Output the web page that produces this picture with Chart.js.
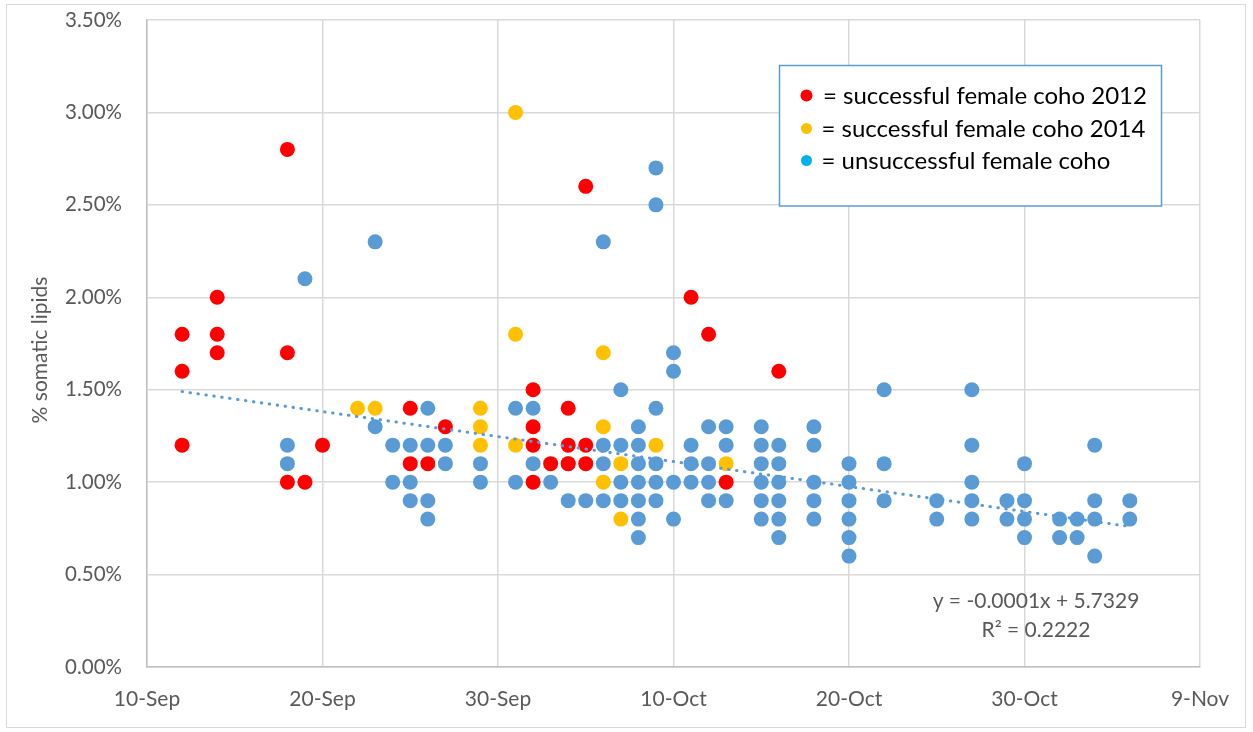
<!DOCTYPE html>
<html>
<head>
<meta charset="utf-8">
<title>% somatic lipids of female coho</title>
<script src="https://cdn.jsdelivr.net/npm/chart.js@4/dist/chart.umd.min.js"></script>
<style>
  html, body { margin: 0; padding: 0; background: #ffffff; }
  #wrap { position: relative; width: 1253px; height: 732px; }
  canvas { display: block; }
</style>
</head>
<body>
<div id="wrap"><canvas id="chart" width="1253" height="732"></canvas></div>
<script>
// Sampling dates (day-Month) and % somatic lipid values for each group
const success2012 = [
  ['12-Sep', 1.8], ['12-Sep', 1.6], ['12-Sep', 1.2],
  ['14-Sep', 2.0], ['14-Sep', 1.8], ['14-Sep', 1.7],
  ['18-Sep', 2.8], ['18-Sep', 1.7], ['18-Sep', 1.0],
  ['19-Sep', 1.0], ['20-Sep', 1.2],
  ['25-Sep', 1.4], ['25-Sep', 1.1], ['26-Sep', 1.1], ['27-Sep', 1.3],
  ['2-Oct', 1.5], ['2-Oct', 1.3], ['2-Oct', 1.2], ['2-Oct', 1.0],
  ['3-Oct', 1.1],
  ['4-Oct', 1.4], ['4-Oct', 1.2], ['4-Oct', 1.1],
  ['5-Oct', 2.6], ['5-Oct', 1.2], ['5-Oct', 1.1],
  ['11-Oct', 2.0], ['12-Oct', 1.8], ['13-Oct', 1.0], ['16-Oct', 1.6]
];

const success2014 = [
  ['22-Sep', 1.4], ['23-Sep', 1.4],
  ['29-Sep', 1.4], ['29-Sep', 1.3], ['29-Sep', 1.2],
  ['1-Oct', 3.0], ['1-Oct', 1.8], ['1-Oct', 1.2],
  ['6-Oct', 1.7], ['6-Oct', 1.3], ['6-Oct', 1.0],
  ['7-Oct', 1.1], ['7-Oct', 0.8],
  ['9-Oct', 1.2], ['13-Oct', 1.1]
];

const unsuccessful = [
  ['18-Sep', 1.2], ['18-Sep', 1.1], ['19-Sep', 2.1],
  ['23-Sep', 2.3], ['23-Sep', 1.3],
  ['24-Sep', 1.2], ['24-Sep', 1.0],
  ['25-Sep', 1.2], ['25-Sep', 1.0], ['25-Sep', 0.9],
  ['26-Sep', 1.4], ['26-Sep', 1.2], ['26-Sep', 0.9], ['26-Sep', 0.8],
  ['27-Sep', 1.2], ['27-Sep', 1.1],
  ['29-Sep', 1.1], ['29-Sep', 1.0],
  ['1-Oct', 1.4], ['1-Oct', 1.0],
  ['2-Oct', 1.4], ['2-Oct', 1.1],
  ['3-Oct', 1.0],
  ['4-Oct', 1.1], ['4-Oct', 0.9],
  ['5-Oct', 0.9],
  ['6-Oct', 2.3], ['6-Oct', 1.2], ['6-Oct', 1.1], ['6-Oct', 0.9],
  ['7-Oct', 1.5], ['7-Oct', 1.2], ['7-Oct', 1.0], ['7-Oct', 0.9],
  ['8-Oct', 1.3], ['8-Oct', 1.2], ['8-Oct', 1.1], ['8-Oct', 1.0], ['8-Oct', 0.9], ['8-Oct', 0.8], ['8-Oct', 0.7],
  ['9-Oct', 2.7], ['9-Oct', 2.5], ['9-Oct', 1.4], ['9-Oct', 1.1], ['9-Oct', 1.0], ['9-Oct', 0.9],
  ['10-Oct', 1.7], ['10-Oct', 1.6], ['10-Oct', 1.0], ['10-Oct', 0.8],
  ['11-Oct', 1.2], ['11-Oct', 1.1], ['11-Oct', 1.0],
  ['12-Oct', 1.3], ['12-Oct', 1.1], ['12-Oct', 1.0], ['12-Oct', 0.9],
  ['13-Oct', 1.3], ['13-Oct', 1.2], ['13-Oct', 0.9],
  ['15-Oct', 1.3], ['15-Oct', 1.2], ['15-Oct', 1.1], ['15-Oct', 1.0], ['15-Oct', 0.9], ['15-Oct', 0.8],
  ['16-Oct', 1.2], ['16-Oct', 1.1], ['16-Oct', 1.0], ['16-Oct', 0.9], ['16-Oct', 0.8], ['16-Oct', 0.7],
  ['18-Oct', 1.3], ['18-Oct', 1.2], ['18-Oct', 1.0], ['18-Oct', 0.9], ['18-Oct', 0.8],
  ['20-Oct', 1.1], ['20-Oct', 1.0], ['20-Oct', 0.9], ['20-Oct', 0.8], ['20-Oct', 0.7], ['20-Oct', 0.6],
  ['22-Oct', 1.5], ['22-Oct', 1.1], ['22-Oct', 0.9],
  ['25-Oct', 0.9], ['25-Oct', 0.8],
  ['27-Oct', 1.5], ['27-Oct', 1.2], ['27-Oct', 1.0], ['27-Oct', 0.9], ['27-Oct', 0.8],
  ['29-Oct', 0.9], ['29-Oct', 0.8],
  ['30-Oct', 1.1], ['30-Oct', 0.9], ['30-Oct', 0.8], ['30-Oct', 0.7],
  ['1-Nov', 0.8], ['1-Nov', 0.7],
  ['2-Nov', 0.8], ['2-Nov', 0.7],
  ['3-Nov', 1.2], ['3-Nov', 0.9], ['3-Nov', 0.8], ['3-Nov', 0.6],
  ['5-Nov', 0.9], ['5-Nov', 0.8]
];

// Linear trend across all fish: end points
const trendDates = ['12-Sep', '5-Nov'];
const trendValues = [1.49, 0.76];
const trendLabel = ['y = -0.0001x + 5.7329', 'R\u00B2 = 0.2222'];

// Axis ticks
const xTickStart = '10-Sep';
const xTickStepDays = 10;
const xTickCount = 7;
const yTicks = [0, 0.5, 1.0, 1.5, 2.0, 2.5, 3.0, 3.5];

const legendItems = [
  { color: '#FF0000', text: '= successful female coho 2012' },
  { color: '#FFC000', text: '= successful female coho 2014' },
  { color: '#00B0F0', text: '= unsuccessful female coho' }
];

const MONTHS = ['Jan','Feb','Mar','Apr','May','Jun','Jul','Aug','Sep','Oct','Nov','Dec'];
const DAY_MS = 86400000;

function parseDate(s) {
  const [d, m] = s.split('-');
  return Date.UTC(2000, MONTHS.indexOf(m), Number(d));
}
const origin = parseDate(xTickStart);
function dayOffset(s) { return Math.round((parseDate(s) - origin) / DAY_MS); }
function dayLabel(v) {
  const dt = new Date(origin + v * DAY_MS);
  return dt.getUTCDate() + '-' + MONTHS[dt.getUTCMonth()];
}
function toPoints(rows) { return rows.map(([d, v]) => ({ x: dayOffset(d), y: v })); }

const GRAY_TEXT = '#595959';
const FONT = 'Lato';

// Legend box, trend equation, axis title and outer frame
const decorations = {
  id: 'decorations',
  beforeDraw(chart) {
    const ctx = chart.ctx;
    ctx.save();
    ctx.fillStyle = '#ffffff';
    ctx.fillRect(0, 0, chart.width, chart.height);
    ctx.strokeStyle = '#d9d9d9';
    ctx.lineWidth = 1;
    ctx.strokeRect(6.5, 4.5, 1239, 723);
    ctx.restore();
  },
  afterDraw(chart) {
    const ctx = chart.ctx;
    ctx.save();

    // y axis title
    ctx.fillStyle = GRAY_TEXT;
    ctx.font = '21px ' + FONT;
    ctx.textAlign = 'center';
    ctx.textBaseline = 'middle';
    ctx.translate(40, 350);
    ctx.rotate(-Math.PI / 2);
    ctx.fillText('% somatic lipids', 0, 0);
    ctx.setTransform(1, 0, 0, 1, 0, 0);

    // trend equation
    ctx.textAlign = 'center';
    ctx.textBaseline = 'alphabetic';
    ctx.fillText(trendLabel[0], 1036, 608);
    ctx.fillText(trendLabel[1], 1036, 637);

    // legend text box
    ctx.fillStyle = '#ffffff';
    ctx.fillRect(780, 66, 381, 140);
    ctx.strokeStyle = '#5B9BD5';
    ctx.lineWidth = 1.5;
    ctx.strokeRect(779.5, 65.5, 382, 140.5);
    const baselines = [103.5, 136.5, 168.5];
    const textX = [823, 821.5, 821.5];
    ctx.font = '24px ' + FONT;
    ctx.textAlign = 'left';
    legendItems.forEach((item, i) => {
      ctx.fillStyle = item.color;
      ctx.beginPath();
      ctx.arc(806.5, baselines[i] - 8, i === 0 ? 6 : 5.5, 0, Math.PI * 2);
      ctx.fill();
      ctx.fillStyle = '#000000';
      ctx.fillText(item.text, textX[i], baselines[i]);
    });
    ctx.restore();
  }
};

function build() {
  Chart.defaults.font.family = FONT;
  Chart.defaults.font.size = 21;
  Chart.defaults.color = GRAY_TEXT;

  const pointStyle = (color) => ({
    backgroundColor: color,
    borderWidth: 0,
    pointRadius: 7.5,
    pointHoverRadius: 7.5
  });

  new Chart(document.getElementById('chart'), {
    type: 'scatter',
    data: {
      datasets: [
        {
          label: 'Linear trend',
          data: trendDates.map((d, i) => ({ x: dayOffset(d), y: trendValues[i] })),
          showLine: true,
          pointRadius: 0,
          borderColor: '#5B9BD5',
          borderWidth: 3,
          borderDash: [0.5, 7.5],
          borderCapStyle: 'round'
        },
        Object.assign({ label: 'successful female coho 2012', data: toPoints(success2012) }, pointStyle('#FF0000')),
        Object.assign({ label: 'successful female coho 2014', data: toPoints(success2014) }, pointStyle('#FFC000')),
        Object.assign({ label: 'unsuccessful female coho', data: toPoints(unsuccessful) }, pointStyle('#5B9BD5'))
      ]
    },
    options: {
      responsive: false,
      animation: false,
      events: [],
      layout: { padding: { left: 0, right: 53, top: 20, bottom: 0 } },
      plugins: { legend: { display: false }, tooltip: { enabled: false } },
      scales: {
        x: {
          type: 'linear',
          min: 0,
          max: xTickStepDays * (xTickCount - 1),
          afterBuildTicks(scale) {
            scale.ticks = Array.from({ length: xTickCount }, (_, i) => ({ value: i * xTickStepDays }));
          },
          ticks: {
            callback: (v) => dayLabel(v),
            padding: 20,
            maxRotation: 0,
            autoSkip: false,
            font: { size: 21 }
          },
          grid: { color: '#d9d9d9', lineWidth: 1.5, drawTicks: false },
          border: { color: '#bfbfbf', width: 1.5 },
          afterFit(scale) { scale.height = 65; }
        },
        y: {
          min: 0,
          max: 3.5,
          afterBuildTicks(scale) {
            scale.ticks = yTicks.map(v => ({ value: v }));
          },
          ticks: {
            callback: (v) => v.toFixed(2) + '%',
            padding: 3,
            font: { size: 20.5 }
          },
          grid: {
            color: '#d9d9d9',
            lineWidth: 1.5,
            drawTicks: true,
            tickLength: 22,
            tickColor: 'rgba(0,0,0,0)'
          },
          border: { color: '#bfbfbf', width: 1.5 },
          afterFit(scale) { scale.width = 147; }
        }
      }
    },
    plugins: [decorations]
  });
}

if (document.fonts && document.fonts.load) {
  Promise.all([document.fonts.load('21px Lato'), document.fonts.load('24px Lato')])
    .then(build, build);
} else {
  build();
}
</script>
</body>
</html>
